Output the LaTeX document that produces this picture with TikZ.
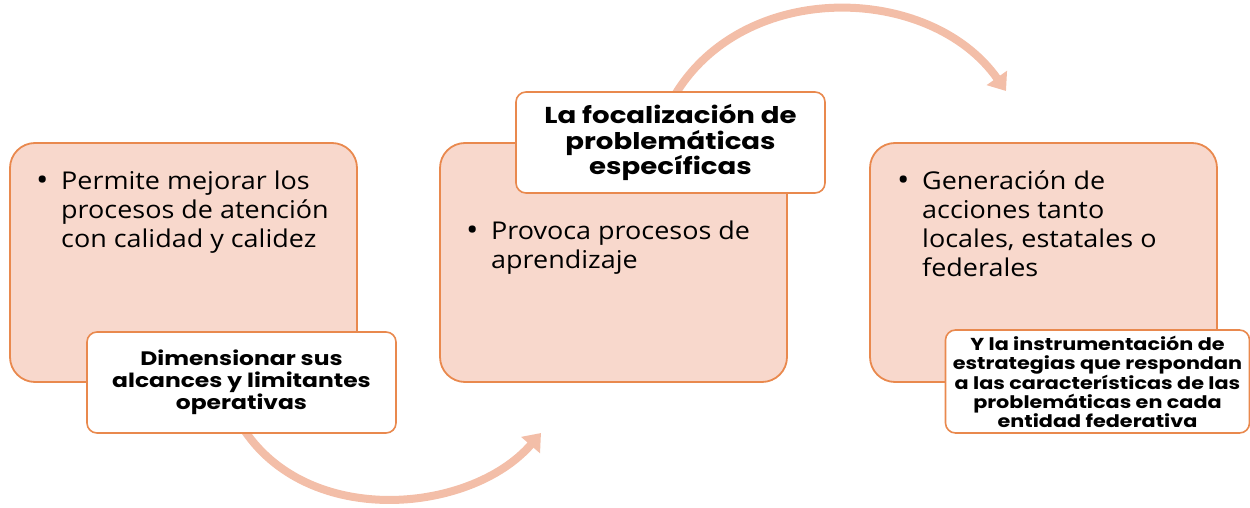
\documentclass[tikz,border=0pt]{standalone}
\usepackage{fontspec}
\setmainfont{Open Sans}[FakeStretch=1.1]
\newfontfamily\labfont{Poppins}[FakeStretch=1.2]
\usetikzlibrary{arrows.meta}
\definecolor{boxfill}{RGB}{248,216,204}
\definecolor{boxline}{RGB}{233,137,78}
\definecolor{arrowcol}{RGB}{243,190,168}
\tikzset{
  bigbox/.style={draw=boxline, line width=1.8pt, fill=boxfill, rounded corners=25pt,
    minimum width=347pt, minimum height=239pt, inner sep=0pt},
  labbox/.style={draw=boxline, line width=1.6pt, fill=white, rounded corners=10pt,
    minimum width=309pt, minimum height=101pt, inner sep=0pt, align=center,
    font=\labfont\bfseries},
  bodytext/.style={anchor=north west, inner sep=0pt, align=left,
    font=\fontsize{24.5pt}{29pt}\selectfont},
  flow/.style={draw=arrowcol, line width=8pt,
    -{Triangle[width=24pt,length=16pt]}}
}
\newcommand{\bul}{\makebox[25pt][l]{\raisebox{-1pt}{\fontsize{30pt}{29pt}\selectfont •}}}
\newcommand{\ind}{\hspace*{25pt}}
\begin{document}
\begin{tikzpicture}[x=1pt,y=-1pt]
\useasboundingbox (0,0) rectangle (1250,508);
% big boxes
\node[bigbox] (b1) at (183.5,262.5) {};
\node[bigbox] (b2) at (613.5,262.5) {};
\node[bigbox] (b3) at (1043.5,262.5) {};
% body texts
\node[bodytext] (t1) at (36,170.5) {\bul Permite mejorar los\\\ind procesos de atención\\\ind con calidad y calidez};
\node[bodytext] (t2) at (466,220.5) {\bul Provoca procesos de\\\ind aprendizaje};
\node[bodytext] (t3) at (897,170.5) {\bul Generación de\\\ind acciones tanto\\\ind locales, estatales o\\\ind federales};
% arrows
\coordinate (a1s) at (238,420);
\coordinate (a1e) at (541,433);
\coordinate (a2s) at (672,100);
\coordinate (a2e) at (1006,91);
\draw[flow] (a1s) .. controls (300,530) and (470,515) .. (a1e);
\draw[flow] (a2s) .. controls (740,-22) and (930,-17) .. (a2e);
% labels
\node[labbox, font=\labfont\bfseries\fontsize{19.5pt}{22pt}\selectfont] (l1) at (241.5,382.5)
  {Dimensionar sus\\alcances y limitantes\\operativas};
\node[labbox, font=\labfont\bfseries\fontsize{23pt}{25.5pt}\selectfont] (l2) at (670.5,142.5)
  {La focalización de\\problemáticas\\específicas};
\node[labbox, minimum width=304pt, minimum height=103pt, font=\labfont\bfseries\fontsize{17.3pt}{19pt}\selectfont] (l3) at (1097.5,381.5)
  {Y la instrumentación de\\estrategias que respondan\\a las características de las\\problemáticas en cada\\entidad federativa};
\end{tikzpicture}
\end{document}
